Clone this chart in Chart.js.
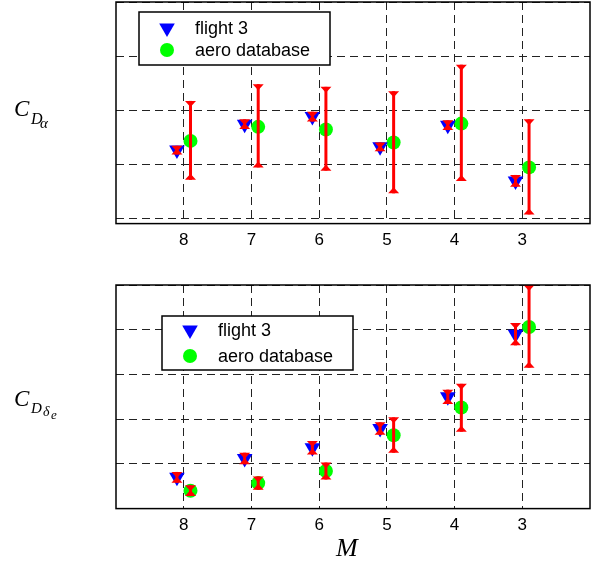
<!DOCTYPE html>
<html>
<head>
<meta charset="utf-8">
<script src="https://cdn.jsdelivr.net/npm/chart.js@4/dist/chart.umd.min.js"></script>
<style>
  body { margin: 0; background: #fff; }
  #wrap { position: relative; width: 591px; height: 564px; overflow: hidden; }
  canvas { position: absolute; left: 0; }
  .lbl { position: absolute; font-family: "Liberation Serif", "DejaVu Serif", serif; font-style: italic; line-height: 1; white-space: nowrap; color: #000; }
</style>
</head>
<body>
<div id="wrap">
  <canvas id="top" width="591" height="258" style="top:0px"></canvas>
  <canvas id="bottom" width="591" height="260" style="top:283px"></canvas>

  <span class="lbl" style="left:14px; top:97px; font-size:23px">C</span>
  <span class="lbl" style="left:31px; top:111px; font-size:16px">D</span>
  <span class="lbl" style="left:40px; top:116px; font-size:15px">α</span>

  <span class="lbl" style="left:14px; top:387px; font-size:23px">C</span>
  <span class="lbl" style="left:31px; top:401px; font-size:15px">D</span>
  <span class="lbl" style="left:43px; top:405px; font-size:14px">δ</span>
  <span class="lbl" style="left:51px; top:408px; font-size:13px">e</span>

  <span class="lbl" style="left:336px; top:535px; font-size:26px">M</span>
</div>
<script>
// Mach numbers (x axis is reversed, 9 -> 2)
const machTicks = [8, 7, 6, 5, 4, 3];
const flightM = [8.1, 7.1, 6.1, 5.1, 4.1, 3.1];
const dbM = [7.9, 6.9, 5.9, 4.9, 3.9, 2.9];

// C_D_alpha (upper plot), arbitrary units
const alphaTicks = [1, 2, 3, 4, 5];
const alphaFlight = [2.26, 2.74, 2.88, 2.32, 2.72, 1.69];
const alphaFlightLo = [2.18, 2.65, 2.79, 2.24, 2.63, 1.58];
const alphaFlightHi = [2.34, 2.83, 2.97, 2.40, 2.81, 1.80];
const alphaDb = [2.43, 2.69, 2.64, 2.40, 2.75, 1.94];
const alphaDbLo = [1.71, 1.94, 1.88, 1.46, 1.69, 1.07];
const alphaDbHi = [3.17, 3.48, 3.43, 3.35, 3.84, 2.83];

// C_D_delta_e (lower plot)
const deltaTicks = [0, 1, 2, 3, 4, 5];
const deltaFlight = [0.70, 1.12, 1.36, 1.79, 2.50, 3.90];
const deltaFlightLo = [0.58, 0.99, 1.21, 1.65, 2.34, 3.65];
const deltaFlightHi = [0.82, 1.25, 1.51, 1.93, 2.66, 4.15];
const deltaDb = [0.40, 0.57, 0.84, 1.64, 2.26, 4.06];
const deltaDbLo = [0.28, 0.42, 0.65, 1.25, 1.72, 3.15];
const deltaDbHi = [0.52, 0.72, 1.03, 2.04, 2.79, 5.00];

const toPoints = (xs, ys) => xs.map((x, i) => ({ x: x, y: ys[i] }));

// red error bars with filled triangle caps, drawn on top of the markers
const errorBars = {
  id: "errorBars",
  afterDatasetsDraw(chart) {
    const ctx = chart.ctx;
    const sx = chart.scales.x;
    const sy = chart.scales.y;
    ctx.save();
    ctx.strokeStyle = "#ff0000";
    ctx.fillStyle = "#ff0000";
    ctx.lineWidth = 3;
    chart.data.datasets.forEach((ds) => {
      if (!ds.errLo) return;
      ds.data.forEach((p, i) => {
        const x = sx.getPixelForValue(p.x);
        const yl = sy.getPixelForValue(ds.errLo[i]);
        const yh = sy.getPixelForValue(ds.errHi[i]);
        ctx.beginPath();
        ctx.moveTo(x, yl);
        ctx.lineTo(x, yh);
        ctx.stroke();
        const w = 5.5, h = 6;
        ctx.beginPath();
        ctx.moveTo(x - w, yh);
        ctx.lineTo(x + w, yh);
        ctx.lineTo(x, yh + h);
        ctx.closePath();
        ctx.fill();
        ctx.beginPath();
        ctx.moveTo(x - w, yl);
        ctx.lineTo(x + w, yl);
        ctx.lineTo(x, yl - h);
        ctx.closePath();
        ctx.fill();
      });
    });
    ctx.restore();
  },
};

const drawMarker = (ctx, style, x, y, r, color) => {
  ctx.fillStyle = color;
  ctx.beginPath();
  if (style === "circle") {
    ctx.arc(x, y, r, 0, Math.PI * 2);
  } else {
    // downward triangle
    ctx.moveTo(x - r * 0.866, y - r / 2);
    ctx.lineTo(x + r * 0.866, y - r / 2);
    ctx.lineTo(x, y + r);
    ctx.closePath();
  }
  ctx.fill();
};

// box around the plot and the boxed legend inside it
const frameLegend = {
  id: "frameLegend",
  afterDraw(chart, args, opts) {
    const ctx = chart.ctx;
    const a = chart.chartArea;
    ctx.save();
    ctx.strokeStyle = "#000";
    ctx.lineWidth = 1.5;
    ctx.strokeRect(a.left, a.top, a.right - a.left, a.bottom - a.top);

    const bx = a.left + opts.x;
    const by = a.top + opts.y;
    ctx.fillStyle = "#fff";
    ctx.fillRect(bx, by, opts.w, opts.h);
    ctx.lineWidth = 1.5;
    ctx.strokeRect(bx, by, opts.w, opts.h);
    ctx.font = "18px 'Liberation Sans', Arial, sans-serif";
    ctx.textBaseline = "middle";
    chart.data.datasets.forEach((ds, i) => {
      const cy = by + opts.rows[i];
      const marker = ds.pointStyle === "circle" ? "circle" : "triangle";
      drawMarker(ctx, marker, bx + 28, cy, ds.pointRadius, ds.backgroundColor);
      ctx.fillStyle = "#000";
      ctx.fillText(ds.label, bx + 56, cy + 1);
    });
    ctx.restore();
  },
};

const makeChart = (canvasId, flightY, fLo, fHi, dbY, dLo, dHi, yTicks, yMin, yMax, legendPos) => {
  const datasets = [
    {
      label: "flight 3",
      data: toPoints(flightM, flightY),
      pointStyle: "triangle",
      rotation: 180,
      pointRadius: 9,
      backgroundColor: "#0000ff",
      borderColor: "#0000ff",
      borderWidth: 0,
      errLo: fLo,
      errHi: fHi,
    },
    {
      label: "aero database",
      data: toPoints(dbM, dbY),
      pointStyle: "circle",
      pointRadius: 7,
      backgroundColor: "#00ff00",
      borderColor: "#00ff00",
      borderWidth: 0,
      errLo: dLo,
      errHi: dHi,
    },
  ];

  const grid = {
    color: "#222",
    lineWidth: 1,
    drawTicks: false,
  };

  return new Chart(document.getElementById(canvasId), {
    type: "scatter",
    data: { datasets: datasets },
    options: {
      responsive: false,
      animation: false,
      devicePixelRatio: 1,
      layout: { autoPadding: false, padding: { left: 116, right: 1, top: 2, bottom: 0 } },
      plugins: {
        legend: { display: false },
        tooltip: { enabled: false },
        frameLegend: legendPos,
      },
      scales: {
        x: {
          type: "linear",
          min: 2,
          max: 9,
          reverse: true,
          afterBuildTicks: (axis) => {
            axis.ticks = machTicks.map((v) => ({ value: v }));
          },
          grid: grid,
          border: { display: false, dash: [8, 5] },
          ticks: {
            color: "#000",
            padding: 7,
            font: { family: "'Liberation Sans', Arial, sans-serif", size: 17 },
          },
        },
        y: {
          type: "linear",
          min: yMin,
          max: yMax,
          afterBuildTicks: (axis) => {
            axis.ticks = yTicks.map((v) => ({ value: v }));
          },
          grid: grid,
          border: { display: false, dash: [8, 5] },
          ticks: { display: false },
        },
      },
    },
    plugins: [errorBars, frameLegend],
  });
};

makeChart("top", alphaFlight, alphaFlightLo, alphaFlightHi,
  alphaDb, alphaDbLo, alphaDbHi, alphaTicks, 0.9, 5,
  { x: 23, y: 10, w: 191, h: 53, rows: [16, 38] });

makeChart("bottom", deltaFlight, deltaFlightLo, deltaFlightHi,
  deltaDb, deltaDbLo, deltaDbHi, deltaTicks, 0, 5,
  { x: 46, y: 31, w: 191, h: 54, rows: [14, 40] });
</script>
</body>
</html>
